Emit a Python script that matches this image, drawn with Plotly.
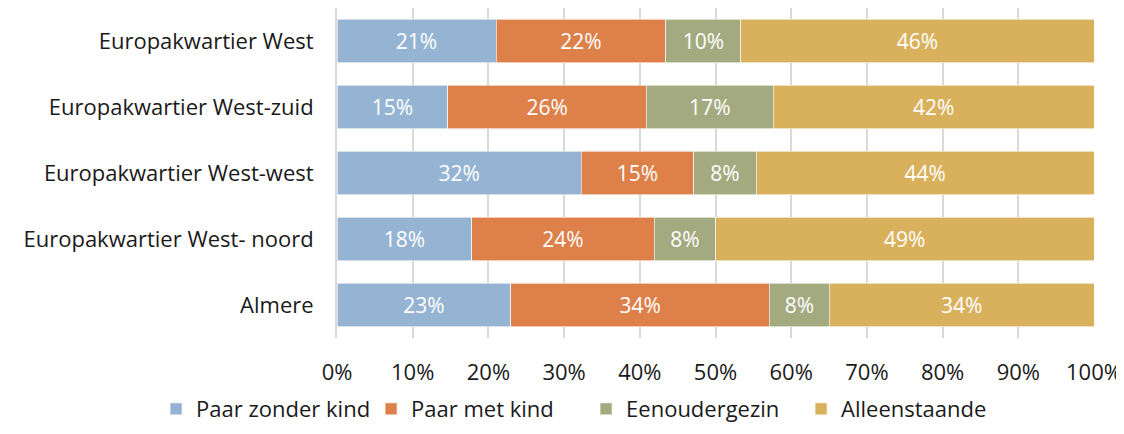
import plotly.graph_objects as go

categories = ["Europakwartier West", "Europakwartier West-zuid", "Europakwartier West-west",
              "Europakwartier West- noord", "Almere"]
series_names = ["Paar zonder kind", "Paar met kind", "Eenoudergezin", "Alleenstaande"]
paar_zonder_kind = [20.9, 14.6, 32.1, 17.6, 22.6]
paar_met_kind = [22.3, 26.2, 14.8, 23.8, 33.6]
eenoudergezin = [9.9, 16.7, 8.2, 8.0, 7.8]
alleenstaande = [46.4, 42.3, 44.4, 49.4, 34.4]
tick_vals = [0, 10, 20, 30, 40, 50, 60, 70, 80, 90, 100]
tick_text = ["0%", "10%", "20%", "30%", "40%", "50%", "60%", "70%", "80%", "90%", "100%"]

colors = ["#95B4D3", "#DD8049", "#A4AA7F", "#D9B15D"]
FONT = "Open Sans"
TXT = "#1a1a1a"

fig = go.Figure()
for name, vals, col in zip(series_names, [paar_zonder_kind, paar_met_kind, eenoudergezin, alleenstaande], colors):
    fig.add_trace(go.Bar(
        y=categories, x=vals, name=name, orientation="h",
        marker=dict(color=col, line=dict(width=0.6, color="white")),
        text=[f"{round(v)}%" for v in vals], textposition="inside",
        insidetextanchor="middle", textangle=0,
        textfont=dict(color="white", size=21, family=FONT),
        hoverinfo="skip",
    ))

fig.update_layout(
    barmode="stack", barnorm="percent", bargap=0.34,
    width=1116, height=418,
    margin=dict(l=329, r=30, t=0, b=88, autoexpand=False),
    paper_bgcolor="white", plot_bgcolor="white",
    font=dict(family=FONT, size=22, color=TXT),
    uniformtext=dict(mode="show", minsize=10),
    xaxis=dict(range=[0, 100], tickvals=tick_vals, ticktext=tick_text,
               showgrid=True, gridcolor="#D9D9D9", gridwidth=2, zeroline=False,
               showline=False, ticks="", ticklabelstandoff=19,
               tickfont=dict(size=22, family=FONT, color=TXT), fixedrange=True),
    yaxis=dict(autorange="reversed", showgrid=False, zeroline=False,
               showline=True, linecolor="#D9D9D9", linewidth=2, ticks="",
               ticklabelstandoff=17,
               tickfont=dict(size=22, family=FONT, color=TXT)),
    legend=dict(orientation="h", xref="paper", yref="paper",
                x=-0.239, xanchor="left", y=-0.2152, yanchor="middle",
                font=dict(size=22, family=FONT, color=TXT),
                traceorder="normal", itemwidth=30,
                entrywidth=170, entrywidthmode="pixels"),
    showlegend=True,
)

fig.write_html("out.html")
